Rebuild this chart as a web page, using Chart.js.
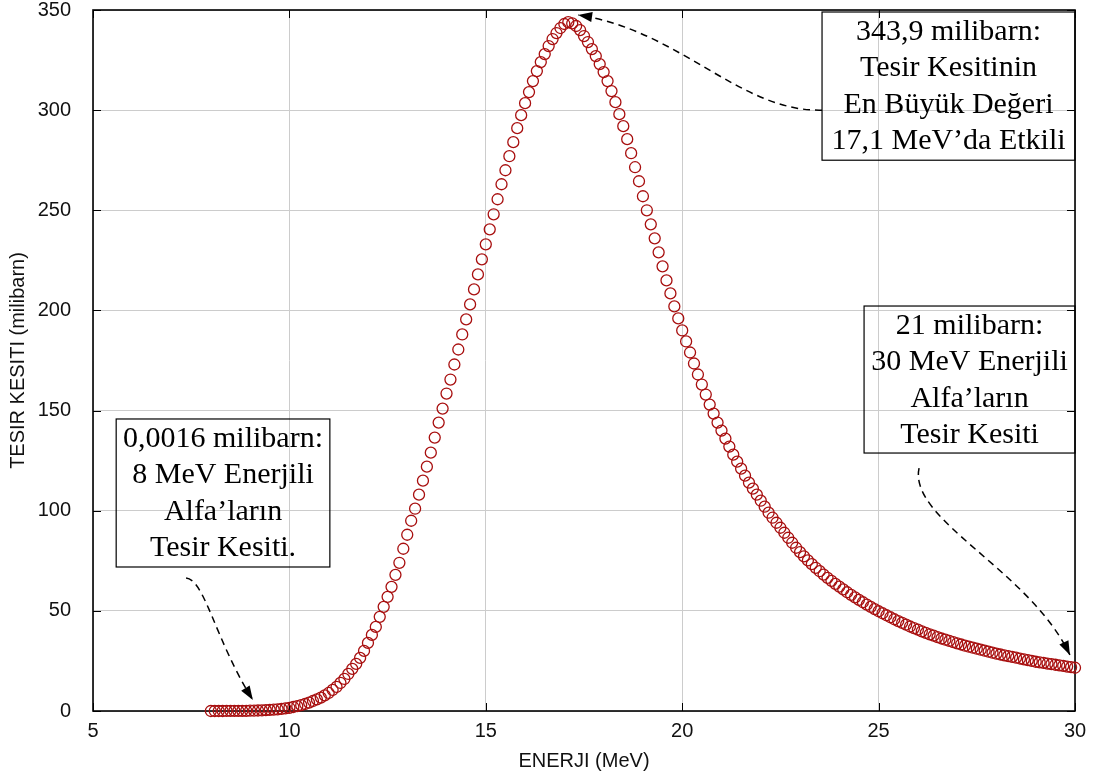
<!DOCTYPE html>
<html>
<head>
<meta charset="utf-8">
<script src="https://cdn.jsdelivr.net/npm/chart.js@4.4.0/dist/chart.umd.min.js"></script>
<style>
  html, body { margin: 0; padding: 0; background: #fff; }
</style>
</head>
<body>
<canvas id="chart" width="1096" height="778"></canvas>
<script>
// eksen degerleri
const xTicks = [5, 10, 15, 20, 25, 30];
const yTicks = [0, 50, 100, 150, 200, 250, 300, 350];

// enerji 8.0 MeV'den 30.0 MeV'e 0.1 adimla
const energyStart = 8.0;
const energyStep = 0.1;

// tesir kesiti (milibarn), her satir 1 MeV
const crossSection = [
  0.0016, 0.003, 0.006, 0.01, 0.02, 0.03, 0.04, 0.06, 0.08, 0.11,   // 8
  0.15, 0.2, 0.26, 0.34, 0.43, 0.54, 0.68, 0.85, 1.05, 1.3,          // 9
  1.6, 2.0, 2.4, 2.9, 3.5, 4.2, 5.0, 5.8, 6.7, 7.8,                  // 10
  9.0, 10.5, 12.0, 14.0, 16.0, 18.5, 21.0, 23.5, 26.5, 30.0,         // 11
  34, 38, 42, 47, 52, 57, 62, 68, 74, 81,                            // 12
  88, 95, 101, 108, 115, 122, 129, 136.5, 144, 151,                  // 13
  158.5, 165.5, 173, 180.5, 188, 195.5, 203, 210.5, 218, 225.5,      // 14
  233, 240.5, 248, 255.5, 263, 270, 277, 284, 291, 297.5,            // 15
  303.5, 309, 314.5, 319.5, 324, 328, 332, 335.5, 338.5, 341,        // 16
  343, 343.9, 343.3, 342, 340, 337, 334, 330.5, 327, 323,            // 17
  319, 314.5, 309.5, 304, 298, 292, 285.5, 278.5, 271.5, 264.5,      // 18
  257, 250, 243, 236, 229, 222, 215, 208.5, 202, 196,                // 19
  190, 184.5, 179, 173.5, 168, 163, 158, 153, 148.5, 144,            // 20
  140, 136, 132, 128, 124.5, 121, 117.5, 114, 111, 108,              // 21
  105, 102, 99, 96.5, 94, 91.5, 89, 86.5, 84, 81.5,                  // 22
  79.3, 77.2, 75.2, 73.3, 71.5, 69.8, 68.1, 66.5, 65, 63.5,          // 23
  62.1, 60.7, 59.3, 58, 56.7, 55.5, 54.3, 53.1, 52, 50.9,            // 24
  49.8, 48.8, 47.8, 46.8, 45.8, 44.9, 44, 43.1, 42.2, 41.4,          // 25
  40.6, 39.8, 39, 38.3, 37.6, 36.9, 36.2, 35.6, 35, 34.4,            // 26
  33.8, 33.2, 32.6, 32.1, 31.6, 31.1, 30.6, 30.1, 29.6, 29.1,        // 27
  28.6, 28.2, 27.8, 27.4, 27, 26.6, 26.2, 25.8, 25.4, 25,            // 28
  24.6, 24.3, 24, 23.7, 23.4, 23.1, 22.8, 22.5, 22.2, 21.9,          // 29
  21.6                                                               // 30
];

// not kutulari
const notePeak = ["343,9 milibarn:", "Tesir Kesitinin", "En Büyük Değeri", "17,1 MeV’da Etkili"];
const noteHigh = ["21 milibarn:", "30 MeV Enerjili", "Alfa’ların", "Tesir Kesiti"];
const noteLow = ["0,0016 milibarn:", "8 MeV Enerjili", "Alfa’ların", "Tesir Kesiti."];

const points = crossSection.map((v, i) => ({
  x: Number((energyStart + i * energyStep).toFixed(1)),
  y: v,
}));

// kutu ve ok yerleri (veri biriminde)
const notes = [
  { lines: notePeak, x1: 23.56, x2: 30, yTop: 349, yBot: 275,
    arrow: [[23.56, 300], [21.47, 299], [19.94, 340], [17.35, 347.5]] },
  { lines: noteHigh, x1: 24.63, x2: 30, yTop: 202.2, yBot: 128.8,
    arrow: [[26.03, 121.3], [25.75, 95.4], [28.85, 70.4], [29.87, 28]] },
  { lines: noteLow, x1: 5.59, x2: 11.03, yTop: 145.8, yBot: 71.9,
    arrow: [[7.37, 66.4], [7.85, 65.4], [8.11, 35.4], [9.07, 5.5]] },
];

const tickFont = { family: "'Liberation Sans', Arial, sans-serif", size: 20 };
const titleFont = { family: "'Liberation Sans', Arial, sans-serif", size: 20 };

// cerceve + iceri dogru tick cizgileri
const framePlugin = {
  id: "frame",
  beforeDatasetsDraw(chart) {
    const { ctx, chartArea: a, scales } = chart;
    ctx.save();
    ctx.strokeStyle = "#000";
    ctx.lineWidth = 1;
    const len = 8;
    ctx.beginPath();
    xTicks.forEach((v) => {
      const px = Math.round(scales.x.getPixelForValue(v)) + 0.5;
      ctx.moveTo(px, a.bottom); ctx.lineTo(px, a.bottom - len);
      ctx.moveTo(px, a.top); ctx.lineTo(px, a.top + len);
    });
    yTicks.forEach((v) => {
      const py = Math.round(scales.y.getPixelForValue(v)) + 0.5;
      ctx.moveTo(a.left, py); ctx.lineTo(a.left + len, py);
      ctx.moveTo(a.right, py); ctx.lineTo(a.right - len, py);
    });
    ctx.stroke();
    ctx.lineWidth = 1.6;
    ctx.strokeRect(a.left, a.top, a.right - a.left, a.bottom - a.top);
    ctx.restore();
  },
};

function drawArrow(ctx, pts) {
  const [p0, p1, p2, p3] = pts;
  ctx.save();
  ctx.strokeStyle = "#000";
  ctx.fillStyle = "#000";
  ctx.lineWidth = 1.5;
  ctx.setLineDash([7, 5]);
  ctx.beginPath();
  ctx.moveTo(p0[0], p0[1]);
  ctx.bezierCurveTo(p1[0], p1[1], p2[0], p2[1], p3[0], p3[1]);
  ctx.stroke();
  ctx.setLineDash([]);
  const ang = Math.atan2(p3[1] - p2[1], p3[0] - p2[0]);
  const L = 14, W = 5;
  ctx.beginPath();
  ctx.moveTo(p3[0], p3[1]);
  ctx.lineTo(p3[0] - L * Math.cos(ang) + W * Math.sin(ang), p3[1] - L * Math.sin(ang) - W * Math.cos(ang));
  ctx.lineTo(p3[0] - L * Math.cos(ang) - W * Math.sin(ang), p3[1] - L * Math.sin(ang) + W * Math.cos(ang));
  ctx.closePath();
  ctx.fill();
  ctx.restore();
}

const notePlugin = {
  id: "notes",
  afterDatasetsDraw(chart) {
    const { ctx, scales } = chart;
    const X = (v) => scales.x.getPixelForValue(v);
    const Y = (v) => scales.y.getPixelForValue(v);
    notes.forEach((n) => {
      const left = X(n.x1), right = X(n.x2), top = Y(n.yTop), bot = Y(n.yBot);
      ctx.save();
      ctx.strokeStyle = "#000";
      ctx.lineWidth = 1.2;
      ctx.strokeRect(left, top, right - left, bot - top);
      ctx.fillStyle = "#000";
      ctx.font = "30px 'Liberation Serif', 'Times New Roman', serif";
      ctx.textAlign = "center";
      ctx.textBaseline = "middle";
      n.lines.forEach((t, i) => {
        ctx.fillText(t, (left + right) / 2, top + 20 + i * 36.5);
      });
      ctx.restore();
      drawArrow(ctx, n.arrow.map((p) => [X(p[0]), Y(p[1])]));
    });
  },
};

new Chart(document.getElementById("chart"), {
  type: "scatter",
  data: {
    datasets: [
      {
        data: points,
        showLine: false,
        pointStyle: "circle",
        pointRadius: 5.5,
        pointBorderWidth: 1.3,
        pointBorderColor: "#a80f0f",
        pointBackgroundColor: "rgba(0,0,0,0)",
        clip: false,
      },
    ],
  },
  options: {
    responsive: false,
    animation: false,
    events: [],
    layout: { padding: { top: 10, right: 21, left: 0, bottom: 0 } },
    plugins: { legend: { display: false }, tooltip: { enabled: false } },
    scales: {
      x: {
        type: "linear",
        min: 5,
        max: 30,
        afterBuildTicks: (s) => { s.ticks = xTicks.map((v) => ({ value: v })); },
        afterFit: (s) => { s.height = 67; s.paddingLeft = 0; s.paddingRight = 0; },
        grid: { color: "#cccccc", drawTicks: false },
        border: { display: false },
        ticks: { padding: 8, color: "#111", font: tickFont },
        title: { display: true, text: "ENERJI (MeV)", color: "#111", font: titleFont, padding: { top: 0, bottom: 5 } },
      },
      y: {
        min: 0,
        max: 350,
        afterBuildTicks: (s) => { s.ticks = yTicks.map((v) => ({ value: v })); },
        afterFit: (s) => { s.width = 93; s.paddingTop = 0; s.paddingBottom = 0; },
        grid: { color: "#cccccc", drawTicks: false },
        border: { display: false },
        ticks: { padding: 22, color: "#111", font: tickFont },
        title: { display: true, text: "TESIR KESITI (milibarn)", color: "#111", font: titleFont, padding: { top: 6, bottom: 0 } },
      },
    },
  },
  plugins: [framePlugin, notePlugin],
});
</script>
</body>
</html>
